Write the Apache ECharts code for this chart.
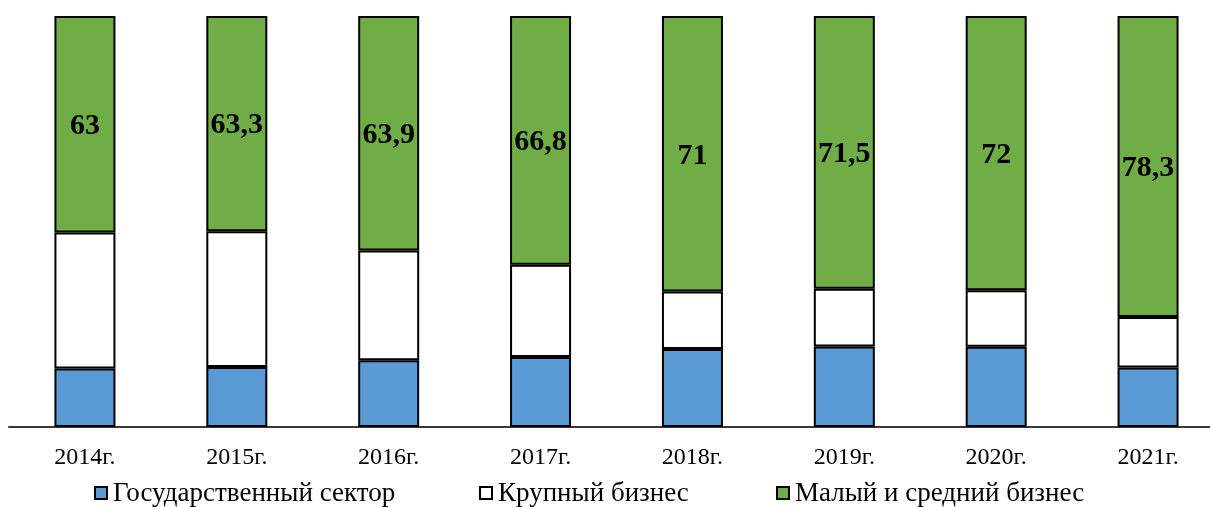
<!DOCTYPE html>
<html>
<head>
<meta charset="utf-8">
<script src="https://cdn.jsdelivr.net/npm/echarts@6/dist/echarts.min.js"></script>
<style>
  html, body { margin: 0; padding: 0; background: #ffffff; overflow: hidden; width: 1210px; height: 507px; }
  #chart { width: 1224px; height: 507px; }
</style>
</head>
<body>
<div id="chart"></div>
<script>
// Categories (years)
const categories = ['2014г.', '2015г.', '2016г.', '2017г.', '2018г.', '2019г.', '2020г.', '2021г.'];
// Series names
const seriesNames = ['Государственный сектор', 'Крупный бизнес', 'Малый и средний бизнес'];
// Values (green values are the printed labels)
const govSector = [17.0, 17.6, 18.2, 18.8, 20.1, 21.1, 21.1, 15.5];
const largeBusiness = [39.6, 39.9, 29.9, 24.8, 14.8, 15.1, 14.8, 13.1];
const smallMediumBusiness = [63, 63.3, 63.9, 66.8, 71, 71.5, 72, 78.3];

const colors = ['#5B9BD5', '#FFFFFF', '#70AD47'];
const serif = '"Liberation Serif", "DejaVu Serif", serif';

// 100% stacked: share of each bar total
const totals = categories.map((_, i) => govSector[i] + largeBusiness[i] + smallMediumBusiness[i]);
function toShare(arr) {
  return arr.map((v, i) => ({ value: v / totals[i] * 100, raw: v }));
}

const raws = [govSector, largeBusiness, smallMediumBusiness];

const chart = echarts.init(document.getElementById('chart'), null, { renderer: 'canvas' });

const series = raws.map((arr, k) => ({
  name: seriesNames[k],
  type: 'bar',
  stack: 'total',
  barWidth: 61,
  data: toShare(arr),
  itemStyle: { color: colors[k], borderColor: '#000000', borderWidth: 2 },
  emphasis: { disabled: true },
  label: k === 2 ? {
    show: true,
    position: 'inside',
    fontFamily: serif,
    fontWeight: 'bold',
    fontSize: 30,
    color: '#000000',
    offset: [0, 2],
    formatter: p => String(p.data.raw).replace('.', ',')
  } : { show: false }
}));

// Legend drawn as graphic items (serif text)
const legendX = [95, 480, 777];
const legendGraphics = [];
seriesNames.forEach((name, k) => {
  legendGraphics.push({
    type: 'rect',
    shape: { x: legendX[k], y: 487, width: 12, height: 12 },
    style: { fill: colors[k], stroke: '#000000', lineWidth: 2 },
    silent: true
  });
  legendGraphics.push({
    type: 'text',
    x: legendX[k] + 18,
    y: 494,
    style: {
      text: name,
      font: '27px ' + serif,
      fontFamily: serif,
      fontSize: 27,
      fill: '#000000',
      verticalAlign: 'middle',
      align: 'left'
    },
    silent: true
  });
});

chart.setOption({
  animation: false,
  backgroundColor: '#ffffff',
  textStyle: { fontFamily: serif },
  grid: { left: 9, right: 0, top: 16, bottom: 80, containLabel: false },
  xAxis: {
    type: 'category',
    data: categories,
    axisTick: { show: false },
    axisLine: { show: true, lineStyle: { color: '#3a3a3a', width: 2 } },
    axisLabel: {
      fontFamily: serif,
      fontSize: 24,
      lineHeight: 24,
      color: '#000000',
      margin: 19,
      interval: 0
    }
  },
  yAxis: {
    type: 'value',
    min: 0,
    max: 100,
    show: false,
    splitLine: { show: false }
  },
  legend: { show: false },
  graphic: legendGraphics,
  series: series
});
</script>
</body>
</html>
